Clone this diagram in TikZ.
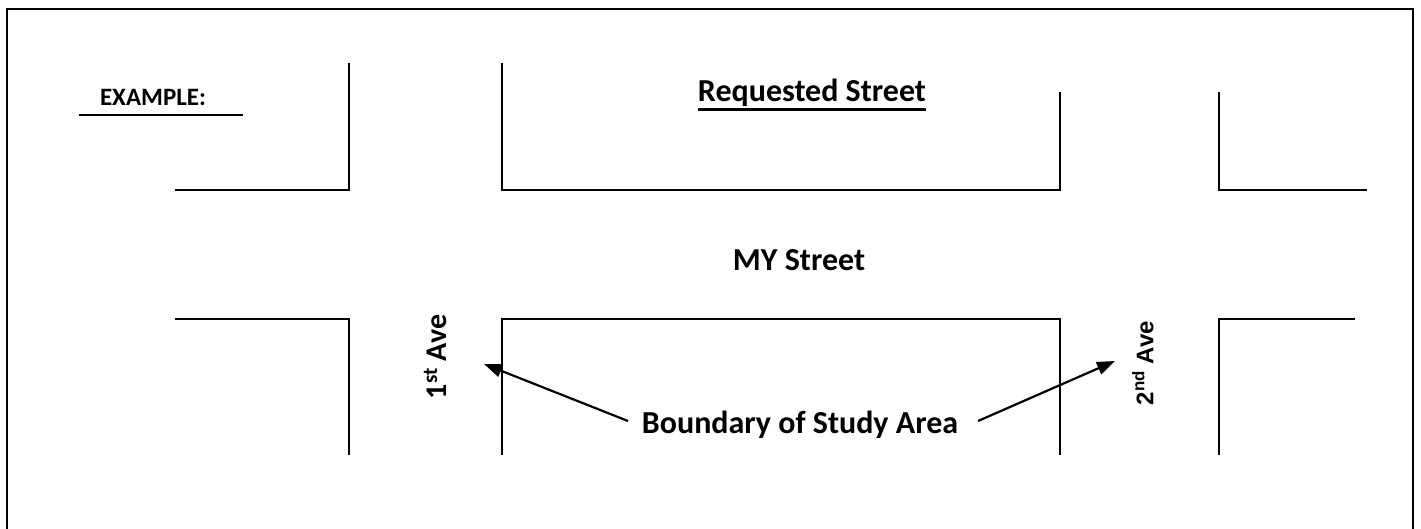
\documentclass[tikz,border=0pt]{standalone}
\usepackage{fontspec}
\setmainfont{Carlito}
\newfontfamily\arialf{Liberation Sans}
\usetikzlibrary{arrows.meta}
\tikzset{
  street/.style={line width=2.3pt, line cap=butt, line join=miter},
  frame/.style={line width=2.5pt},
  lbl/.style={font=\bfseries\fontsize{32}{36}\selectfont, inner sep=0pt},
  pointer/.style={line width=2.2pt, -{Triangle[length=18pt,width=13pt]}}
}
\begin{document}
\begin{tikzpicture}[x=1pt,y=-1pt]
\useasboundingbox (0,0) rectangle (1421,529);
% frame
\draw[frame] (7,540) -- (7,9) -- (1413,9) -- (1413,540);
% example
\node[font=\bfseries\fontsize{25}{29}\selectfont, inner sep=0pt] (ex) at (153,97) {EXAMPLE:};
\draw[line width=2.8pt] (79,115) -- (243,115);
% top blocks
\draw[street] (175,190) -- (349,190) -- (349,63);
\draw[street] (502,63) -- (502,190) -- (1060,190) -- (1060,92);
\draw[street] (1219,92) -- (1219,190) -- (1367,190);
% bottom blocks
\draw[street] (175,319) -- (349,319) -- (349,455);
\draw[street] (502,455) -- (502,319) -- (1060,319) -- (1060,455);
\draw[street] (1219,455) -- (1219,319) -- (1355,319);
% labels
\node[lbl] (req) at (812,93) {Requested Street};
\draw[line width=2.6pt] ([yshift=-2.5pt]req.south west) -- ([yshift=-2.5pt]req.south east);
\node[lbl] (my) at (799,260) {MY Street};
\node[lbl, font=\bfseries\fontsize{30}{34}\selectfont, rotate=90] (ave1) at (435,357) {1\textsuperscript{st} Ave};
\node[lbl, font=\arialf\bfseries\fontsize{24}{28}\selectfont, rotate=90] (ave2) at (1143,363) {2\textsuperscript{nd} Ave};
\node[lbl] (bnd) at (800,425) {Boundary of Study Area};
\coordinate (t1) at (484,364);
\coordinate (t2) at (1115,361);
\coordinate (s1) at (628,421);
\coordinate (s2) at (978,421);
\draw[pointer] (s1) -- (t1);
\draw[pointer] (s2) -- (t2);
\end{tikzpicture}
\end{document}
